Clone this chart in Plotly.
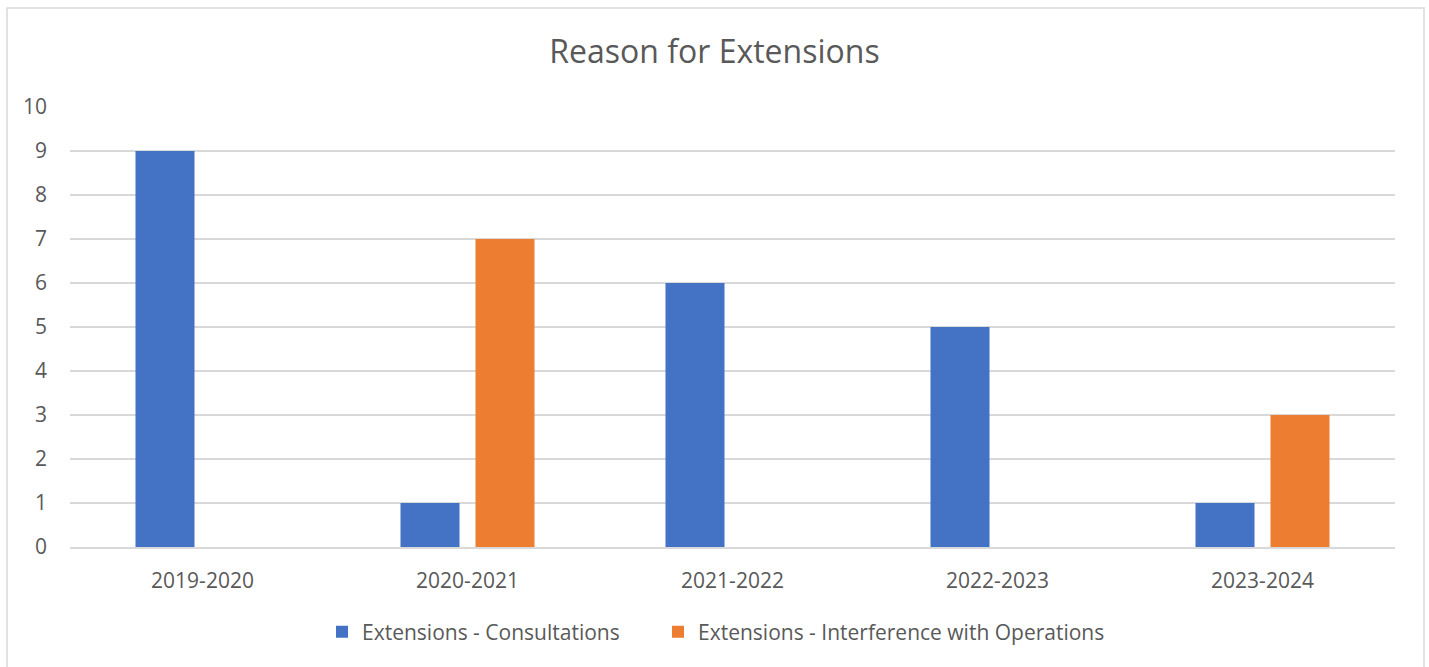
import plotly.graph_objects as go

categories = ["2019-2020", "2020-2021", "2021-2022", "2022-2023", "2023-2024"]
consultations = [9, 1, 6, 5, 1]
interference = [0, 7, 0, 0, 3]
series_names = ["Extensions - Consultations", "Extensions - Interference with Operations"]
colors = ["#4472C4", "#ED7D31"]
y_ticks = list(range(0, 11))

W, H = 1429, 667
L, R, T, B = 70, 34, 107, 120
pw, ph = W - L - R, H - T - B

FONT = "Open Sans"
TXT = "#595959"

fig = go.Figure()
fig.add_trace(go.Bar(x=categories, y=consultations, name=series_names[0], marker_color=colors[0],
                     marker_line_width=0, legend="legend", showlegend=True))
fig.add_trace(go.Bar(x=categories, y=interference, name=series_names[1], marker_color=colors[1],
                     marker_line_width=0, legend="legend2", showlegend=True))

leg_common = dict(orientation="h", xanchor="left", y=(547 - 632) / ph, yanchor="middle",
                  font=dict(family=FONT, size=21, color=TXT), bgcolor="rgba(0,0,0,0)",
                  itemwidth=30, tracegroupgap=0, visible=True)

fig.update_layout(
    width=W, height=H,
    margin=dict(l=L, r=R, t=T, b=B, pad=0),
    paper_bgcolor="white", plot_bgcolor="white",
    showlegend=True,
    barmode="group", bargap=0.434, bargroupgap=0.213,
    font=dict(family=FONT, color=TXT, size=21),
    title=dict(text="Reason for Extensions", x=0.5, xanchor="center",
               y=1 - 52 / H, yanchor="middle",
               font=dict(family=FONT, size=32, color=TXT)),
    legend=dict(x=(322 - L) / pw, **leg_common),
    legend2=dict(x=(658 - L) / pw, **leg_common),
    xaxis=dict(showgrid=False, showline=True, linecolor="#d9d9d9", linewidth=1.5,
               ticks="", ticklabelstandoff=14, tickfont=dict(size=21, color=TXT)),
    yaxis=dict(range=[0, 10], tickvals=y_ticks, showgrid=True, gridcolor="#d9d9d9", gridwidth=1.5,
               zeroline=False, showline=False, ticks="", ticklabelstandoff=22,
               tickfont=dict(size=21, color=TXT)),
    shapes=[dict(type="rect", xref="paper", yref="paper",
                 x0=(7 - L) / pw, x1=(1424 - L) / pw,
                 y0=(547 - 700) / ph, y1=(547 - 8) / ph,
                 line=dict(color="#d9d9d9", width=1.5), fillcolor="rgba(0,0,0,0)", layer="below")],
)

fig.write_html("out.html")
